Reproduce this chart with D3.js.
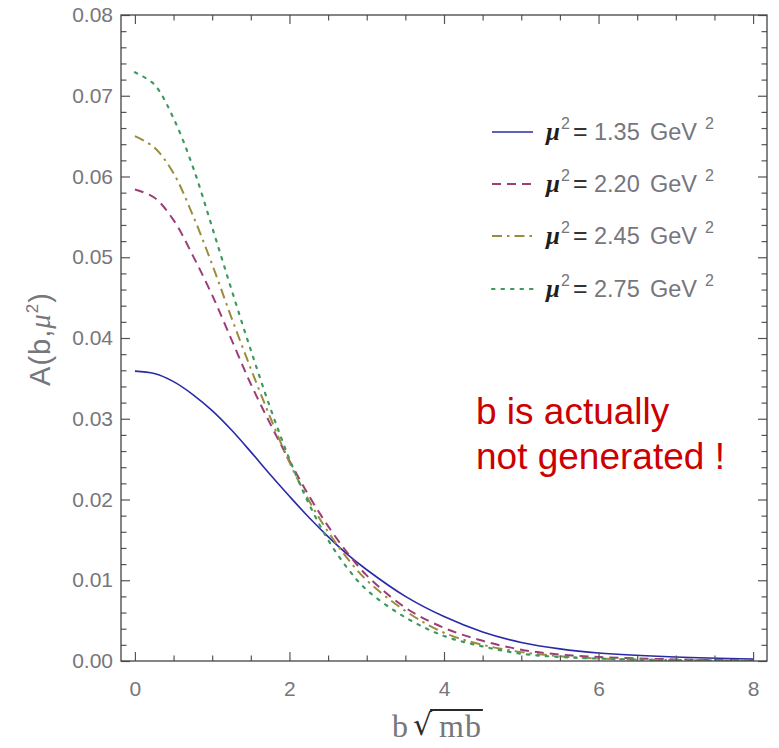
<!DOCTYPE html>
<html>
<head>
<meta charset="utf-8">
<script src="https://cdn.jsdelivr.net/npm/d3@7"></script>
<style>
  body { margin: 0; background: #fff; }
</style>
</head>
<body>
<div id="chart"></div>
<script>
// sample points along b*sqrt(mb)
var bValues = [0, 0.25, 0.5, 0.75, 1, 1.25, 1.5, 1.75, 2, 2.25, 2.5, 2.75, 3, 3.5, 4, 4.5, 5, 5.5, 6, 7, 8];

// A(b, mu^2), one list per mu^2
var mu135 = [0.0359, 0.0356, 0.0346, 0.0330, 0.0310, 0.0286, 0.0259, 0.0231, 0.0204, 0.0178, 0.0154, 0.0132, 0.0113, 0.0080, 0.0055, 0.0036, 0.0023, 0.0015, 0.0010, 0.0005, 0.00025];
var mu220 = [0.0584, 0.0574, 0.0546, 0.0502, 0.0453, 0.0398, 0.0343, 0.0294, 0.0248, 0.0205, 0.0167, 0.0134, 0.0106, 0.0066, 0.0041, 0.0025, 0.0014, 0.0008, 0.0005, 0.0002, 0.0001];
var mu245 = [0.0650, 0.0636, 0.0604, 0.0552, 0.0491, 0.0425, 0.0362, 0.0302, 0.0246, 0.0199, 0.0160, 0.0127, 0.0100, 0.0062, 0.0035, 0.0020, 0.0011, 0.0006, 0.0003, 0.0001, 0.00005];
var mu275 = [0.0729, 0.0714, 0.0672, 0.0612, 0.0537, 0.0460, 0.0385, 0.0314, 0.0250, 0.0195, 0.0150, 0.0115, 0.0088, 0.0054, 0.0031, 0.0018, 0.0009, 0.0005, 0.0003, 0.0001, 0.00005];

var seriesLabels = ["1.35", "2.20", "2.45", "2.75"];
var xTicks = [0, 2, 4, 6, 8];
var yTicks = [0, 0.01, 0.02, 0.03, 0.04, 0.05, 0.06, 0.07, 0.08];

var width = 779, height = 748;
var margin = {top: 15, right: 12, bottom: 87, left: 121};
var sans = "Liberation Sans, Arial, sans-serif";
var serif = "Liberation Serif, Times New Roman, serif";
var grey = "#76767c";

var svg = d3.select("#chart")
    .append("svg")
    .attr("width", width)
    .attr("height", height);

var x = d3.scaleLinear().domain([-0.18, 8.18]).range([margin.left, width - margin.right]);
var y = d3.scaleLinear().domain([0, 0.08]).range([height - margin.bottom, margin.top]);

var x0 = x.range()[0], x1 = x.range()[1];
var y0 = y.range()[0], y1 = y.range()[1];

// colors / dash styles (Mathematica default look)
var colors = ["#2a2aa8", "#9c3d77", "#9a8c3d", "#3d9a5e"];
var dashes = [null, "9,6", "10,5,2.5,5", "2.5,7"];
var widths = [1.6, 2, 2, 2.2];

svg.append("defs").append("clipPath")
    .attr("id", "plotclip")
    .append("rect")
    .attr("x", x0).attr("y", y1)
    .attr("width", x1 - x0).attr("height", y0 - y1);

// curves
var line = d3.line()
    .x(function (d) { return x(d[0]); })
    .y(function (d) { return y(d[1]); })
    .curve(d3.curveCatmullRom.alpha(0.5));

var series = [mu135, mu220, mu245, mu275];
series.forEach(function (vals, i) {
    svg.append("path")
        .datum(bValues.map(function (b, j) { return [b, vals[j]]; }))
        .attr("clip-path", "url(#plotclip)")
        .attr("fill", "none")
        .attr("stroke", colors[i])
        .attr("stroke-width", widths[i])
        .attr("stroke-dasharray", dashes[i])
        .attr("stroke-linecap", i == 3 ? "round" : "butt")
        .attr("d", line);
});

// frame ticks, all pointing inward
var xMinor = d3.range(0, 8.01, 0.5).filter(function (v) { return v % 2 != 0; });
var yMinor = d3.range(0, 0.0801, 0.002).filter(function (v) { return Math.round(v * 1000) % 10 != 0; });

function styleAxis(g) {
    g.select(".domain").remove();
    g.selectAll("line").attr("stroke", "#555").attr("stroke-width", 1.2);
}

svg.append("g").attr("transform", "translate(0," + y0 + ")")
    .call(d3.axisBottom(x).tickValues(xTicks).tickSize(-9).tickPadding(20).tickFormat(d3.format("d")))
    .call(styleAxis)
    .selectAll("text").attr("fill", grey).attr("font-size", 21)
    .attr("font-family", sans);
svg.append("g").attr("transform", "translate(0," + y0 + ")")
    .call(d3.axisBottom(x).tickValues(xMinor).tickSize(-5.5).tickFormat(""))
    .call(styleAxis);
svg.append("g").attr("transform", "translate(0," + y1 + ")")
    .call(d3.axisTop(x).tickValues(xTicks).tickSize(-9).tickFormat(""))
    .call(styleAxis);
svg.append("g").attr("transform", "translate(0," + y1 + ")")
    .call(d3.axisTop(x).tickValues(xMinor).tickSize(-5.5).tickFormat(""))
    .call(styleAxis);

svg.append("g").attr("transform", "translate(" + x0 + ",0)")
    .call(d3.axisLeft(y).tickValues(yTicks).tickSize(-9).tickPadding(8).tickFormat(d3.format(".2f")))
    .call(styleAxis)
    .selectAll("text").attr("fill", grey).attr("font-size", 21)
    .attr("font-family", sans);
svg.append("g").attr("transform", "translate(" + x0 + ",0)")
    .call(d3.axisLeft(y).tickValues(yMinor).tickSize(-5.5).tickFormat(""))
    .call(styleAxis);
svg.append("g").attr("transform", "translate(" + x1 + ",0)")
    .call(d3.axisRight(y).tickValues(yTicks).tickSize(-9).tickFormat(""))
    .call(styleAxis);
svg.append("g").attr("transform", "translate(" + x1 + ",0)")
    .call(d3.axisRight(y).tickValues(yMinor).tickSize(-5.5).tickFormat(""))
    .call(styleAxis);

// frame
svg.append("rect")
    .attr("x", x0).attr("y", y1)
    .attr("width", x1 - x0).attr("height", y0 - y1)
    .attr("fill", "none")
    .attr("stroke", "#444")
    .attr("stroke-width", 1.3);

// y axis label  A(b,mu^2)
var yl = svg.append("text")
    .attr("transform", "translate(50,339) rotate(-90)")
    .attr("text-anchor", "middle")
    .attr("font-family", sans)
    .attr("font-size", 29)
    .attr("letter-spacing", 1)
    .attr("fill", grey);
yl.append("tspan").text("A(b,");
yl.append("tspan").attr("font-style", "italic").attr("font-family", serif).text("\u03bc");
yl.append("tspan").attr("font-size", 17).attr("dy", -12).text("2");
yl.append("tspan").attr("dy", 12).text(")");

// x axis label  b sqrt(mb)
svg.append("text")
    .attr("x", 392).attr("y", 737)
    .attr("font-family", serif).attr("font-size", 32)
    .attr("fill", grey)
    .text("b");
var rad = svg.append("text")
    .attr("x", 413).attr("y", 735)
    .attr("font-family", "DejaVu Sans, sans-serif").attr("font-size", 30)
    .attr("fill", "#2a2a2a")
    .text("\u221a");
var mb = svg.append("text")
    .attr("x", 439).attr("y", 737)
    .attr("font-family", serif).attr("font-size", 32)
    .attr("letter-spacing", 1)
    .attr("fill", grey)
    .text("mb");
var rb = rad.node().getBBox();
var mbb = mb.node().getBBox();
var topY = rb.y + 3;
svg.append("line")
    .attr("x1", rb.x + rb.width - 3).attr("x2", mbb.x + mbb.width + 1)
    .attr("y1", topY).attr("y2", topY)
    .attr("stroke", "#2a2a2a").attr("stroke-width", 1.8);

// legend
var legendRows = [132, 184, 236, 289];
seriesLabels.forEach(function (lab, i) {
    var ly = legendRows[i];
    svg.append("line")
        .attr("x1", 492).attr("x2", 533)
        .attr("y1", ly).attr("y2", ly)
        .attr("stroke", colors[i])
        .attr("stroke-width", widths[i])
        .attr("stroke-dasharray", dashes[i])
        .attr("stroke-linecap", i == 3 ? "round" : "butt");
    var base = ly + 8;
    svg.append("text")
        .attr("x", 546).attr("y", base)
        .attr("font-family", serif).attr("font-style", "italic").attr("font-weight", "bold")
        .attr("font-size", 25).attr("fill", "#1e1e1e")
        .text("\u03bc");
    svg.append("text")
        .attr("x", 561).attr("y", base - 11)
        .attr("font-family", sans).attr("font-size", 16).attr("fill", grey)
        .text("2");
    svg.append("text")
        .attr("x", 573).attr("y", base)
        .attr("font-family", sans).attr("font-size", 25).attr("fill", "#333")
        .text("=");
    svg.append("text")
        .attr("x", 594).attr("y", base)
        .attr("font-family", sans).attr("font-size", 23.5).attr("fill", grey)
        .text(lab);
    svg.append("text")
        .attr("x", 650).attr("y", base)
        .attr("font-family", sans).attr("font-size", 23.5).attr("fill", grey)
        .text("GeV");
    svg.append("text")
        .attr("x", 705).attr("y", base - 11)
        .attr("font-family", sans).attr("font-size", 16).attr("fill", grey)
        .text("2");
});

// annotation
var note = svg.append("text")
    .attr("x", 476).attr("y", 424)
    .attr("font-family", sans)
    .attr("font-size", 37)
    .attr("fill", "#cc0000");
note.append("tspan").attr("x", 476).text("b is actually");
note.append("tspan").attr("x", 476).attr("dy", 45).text("not generated !");
</script>
</body>
</html>
